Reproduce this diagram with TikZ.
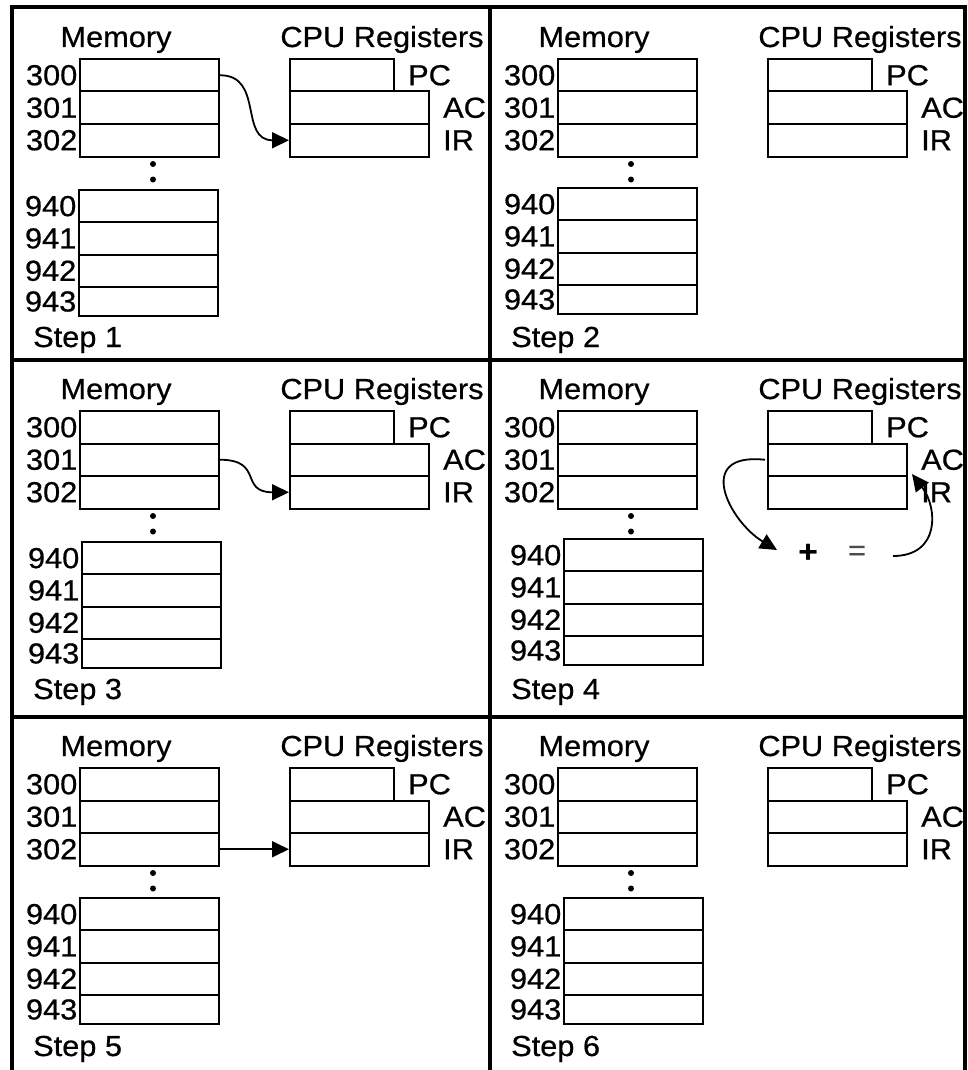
\documentclass[tikz,border=0pt]{standalone}
\usepackage{fontspec}
\setmainfont{Liberation Sans}[FakeStretch=1.06,FakeBold=0.6]
\usetikzlibrary{arrows.meta}
\tikzset{
  txt/.style={font=\fontsize{29}{30}\selectfont, inner sep=0pt, text=black},
  title/.style={txt, anchor=base},
  cell/.style={draw, line width=2pt, rectangle, inner sep=0pt, anchor=north west},
  dotmark/.style={circle, fill=black, inner sep=0pt, minimum size=6pt},
  frameline/.style={line width=3.5pt},
  conn/.style={line width=1.8pt, -{Triangle[length=17pt,width=16pt]}},
}
% #1 prefix, #2 dx, #3 dy, #4 lower x, #5 lower y (local), #6 step number
\newcommand\cpuPanel[6]{%
\begin{scope}[shift={(#2,#3)}]
  \node[title] (#1mt) at (116,47) {Memory};
  \node[title] (#1rt) at (382,47) {CPU Registers};
  % upper memory cells
  \node[cell, minimum width=139pt, minimum height=32.5pt] (#1m0) at (79,58) {};
  \node[cell, minimum width=139pt, minimum height=32.5pt] (#1m1) at (79,90.5) {};
  \node[cell, minimum width=139pt, minimum height=32.5pt] (#1m2) at (79,123) {};
  \node[txt, anchor=east, inner xsep=1.5pt] (#1a0) at (#1m0.west) {300};
  \node[txt, anchor=east, inner xsep=1.5pt] (#1a1) at (#1m1.west) {301};
  \node[txt, anchor=east, inner xsep=1.5pt] (#1a2) at (#1m2.west) {302};
  % dots
  \node[dotmark] (#1d0) at (153,164) {};
  \node[dotmark] (#1d1) at (153,179.5) {};
  % lower memory cells
  \node[cell, minimum width=139pt, minimum height=32.3pt] (#1n0) at (#4,#5) {};
  \node[cell, minimum width=139pt, minimum height=32.3pt] (#1n1) at (#4,{#5+32.3}) {};
  \node[cell, minimum width=139pt, minimum height=32.4pt] (#1n2) at (#4,{#5+64.6}) {};
  \node[cell, minimum width=139pt, minimum height=29pt] (#1n3) at (#4,{#5+97}) {};
  \node[txt, anchor=east, inner xsep=1.5pt] (#1b0) at (#1n0.west) {940};
  \node[txt, anchor=east, inner xsep=1.5pt] (#1b1) at (#1n1.west) {941};
  \node[txt, anchor=east, inner xsep=1.5pt] (#1b2) at (#1n2.west) {942};
  \node[txt, anchor=east, inner xsep=1.5pt] (#1b3) at (#1n3.west) {943};
  % registers
  \node[cell, minimum width=104pt, minimum height=32.5pt] (#1r0) at (289,58) {};
  \node[cell, minimum width=139pt, minimum height=32.5pt] (#1r1) at (289,90.5) {};
  \node[cell, minimum width=139pt, minimum height=32.5pt] (#1r2) at (289,123) {};
  \node[txt, anchor=west] (#1pc) at ([xshift=13pt]#1r0.east) {PC};
  \node[txt, anchor=west] (#1ac) at ([xshift=13pt]#1r1.east) {AC};
  \node[txt, anchor=west] (#1ir) at ([xshift=13pt]#1r2.east) {IR};
  \node[txt, anchor=base west] (#1st) at (33,347) {Step #6};
\end{scope}}
\begin{document}
\begin{tikzpicture}[x=1pt, y=-1pt]
\useasboundingbox[fill=white] (0,0) rectangle (967,1070);
% frame
\draw[frameline] (12,1075) -- (12,7) -- (965,7) -- (965,1075);
\draw[frameline] (490,7) -- (490,1075);
\draw[frameline] (12,360) -- (965,360);
\draw[frameline] (12,717) -- (965,717);
% panels
\cpuPanel{A}{0}{0}{78}{189}{1}
\cpuPanel{B}{478}{0}{79}{187}{2}
\cpuPanel{C}{0}{352}{81}{189}{3}
\cpuPanel{D}{478}{352}{85}{186}{4}
\cpuPanel{E}{0}{709}{79}{188}{5}
\cpuPanel{F}{478}{709}{85}{188}{6}
% connectors
\draw[conn] (Am0.east) .. controls +(44,0) and +(-50,0) .. (Ar2.west);
\draw[conn] (Cm1.east) .. controls +(44,0) and +(-50,0) .. (Cr2.west);
\draw[conn] (Em2.east) -- (Er2.west);
% step 4 addition
\node[txt, font=\fontsize{31}{31}\selectfont\bfseries] (plus) at (808,553) {+};
\node[txt, text=black!70] (eq) at (857,553) {=};
\coordinate (acout) at ([xshift=-2pt]Dr1.west);
\coordinate (addin) at (777,550);
\coordinate (sumout) at (893,556);
\coordinate (irin) at (912,474);
\draw[conn] (acout) .. controls (693,452) and (730,522) .. (addin);
\draw[conn] (sumout) .. controls (940,556) and (938,508) .. (irin);
\end{tikzpicture}
\end{document}
